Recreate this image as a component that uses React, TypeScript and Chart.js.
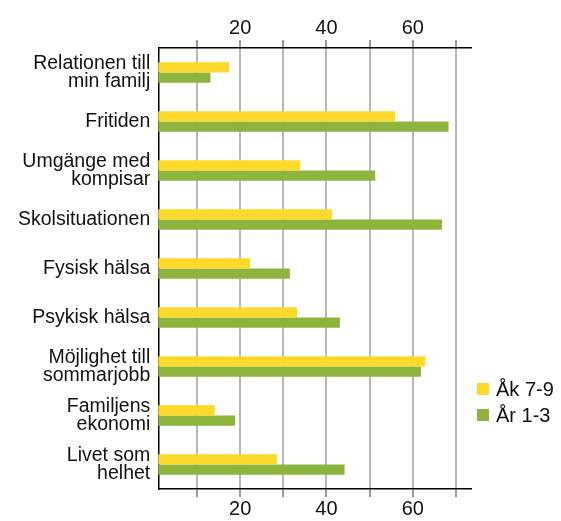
import React, { useEffect, useRef } from 'react';
import { Chart, registerables } from 'chart.js';
Chart.register(...registerables);

const categories: (string | string[])[] = [
  ['Relationen till', 'min familj'],
  'Fritiden',
  ['Umgänge med', 'kompisar'],
  'Skolsituationen',
  'Fysisk hälsa',
  'Psykisk hälsa',
  ['Möjlighet till', 'sommarjobb'],
  ['Familjens', 'ekonomi'],
  ['Livet som', 'helhet'],
];
const ak79 = [17.4, 55.9, 33.9, 41.3, 22.3, 33.2, 62.9, 14.1, 28.5];
const ar13 = [13.1, 68.3, 51.3, 66.8, 31.5, 43.1, 61.9, 18.8, 44.2];
const seriesNames = ['Åk 7-9', 'År 1-3'];
const seriesColors = ['#FCD92B', '#8DB53D'];
const gridTicks = [10, 20, 30, 40, 50, 60, 70];
const labeledTicks = [20, 40, 60];

const FONT = '"Liberation Sans", Arial, Helvetica, sans-serif';

export default function App() {
  const canvasRef = useRef<HTMLCanvasElement>(null);

  useEffect(() => {
    if (!canvasRef.current) return;
    const xAxisBase = (pos: 'top' | 'bottom') => ({
      type: 'linear' as const,
      position: pos,
      min: 1,
      max: 73.5,
      afterBuildTicks: (s: any) => {
        s.ticks = gridTicks.map((v) => ({ value: v }));
      },
      grid: {
        display: true,
        drawOnChartArea: pos === 'bottom',
        color: '#b8b8b8',
        lineWidth: 2,
        tickColor: '#777',
        tickLength: 8,
        tickWidth: 1.5,
      },
      border: { display: true, color: '#000', width: 1.5 },
      ticks: {
        autoSkip: false,
        maxRotation: 0,
        padding: 2,
        color: '#111',
        font: { family: FONT, size: 20, lineHeight: 1 },
        callback: (v: any) => (labeledTicks.includes(Number(v)) ? String(v) : ''),
      },
    });

    const chart = new Chart(canvasRef.current, {
      type: 'bar',
      data: {
        labels: categories as any,
        datasets: [
          {
            label: seriesNames[0],
            data: ak79,
            backgroundColor: seriesColors[0],
            borderWidth: 0,
            xAxisID: 'x',
          },
          {
            label: seriesNames[1],
            data: ar13,
            backgroundColor: seriesColors[1],
            borderWidth: 0,
            xAxisID: 'x',
          },
        ],
      },
      options: {
        indexAxis: 'y',
        responsive: false,
        animation: false,
        maintainAspectRatio: false,
        layout: { padding: { left: 10, right: 90, top: 16, bottom: 0 } },
        datasets: { bar: { categoryPercentage: 0.42, barPercentage: 1 } },
        plugins: { legend: { display: false }, tooltip: { enabled: false } },
        scales: {
          x: xAxisBase('bottom') as any,
          x2: xAxisBase('top') as any,
          y: {
            type: 'category',
            grid: { display: false, drawTicks: false },
            border: { display: true, color: '#000', width: 1.5 },
            ticks: {
              padding: 8,
              color: '#111',
              font: { family: FONT, size: 19.5, lineHeight: 0.9 },
            },
          },
        },
      },
    });
    return () => chart.destroy();
  }, []);

  return (
    <div
      style={{
        position: 'fixed',
        left: 0,
        top: 0,
        width: 561,
        height: 521,
        background: '#fff',
      }}
    >
      <canvas ref={canvasRef} width={561} height={521} style={{ display: 'block' }} />
      <div
        style={{
          position: 'absolute',
          left: 477,
          top: 376,
          fontFamily: FONT,
          fontSize: 20,
          color: '#111',
        }}
      >
        {seriesNames.map((n, i) => (
          <div key={n} style={{ display: 'flex', alignItems: 'center', height: 26 }}>
            <span
              style={{
                display: 'inline-block',
                width: 12,
                height: 12,
                background: seriesColors[i],
                marginRight: 7,
              }}
            />
            <span>{n}</span>
          </div>
        ))}
      </div>
    </div>
  );
}
